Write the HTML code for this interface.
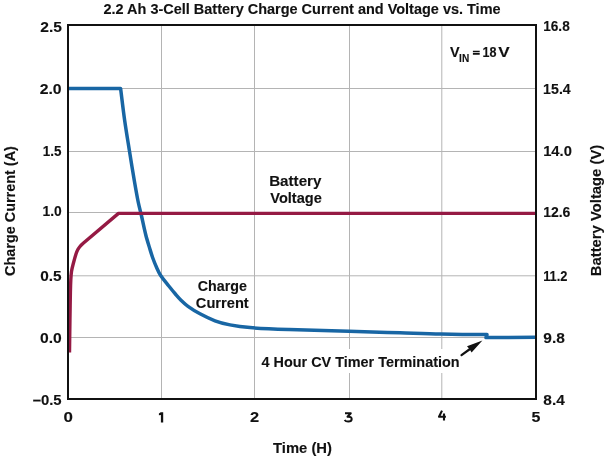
<!DOCTYPE html>
<html><head><meta charset="utf-8"><style>
html,body{margin:0;padding:0;background:#fff;width:607px;height:457px;overflow:hidden}
svg{display:block;will-change:transform;filter:blur(0.3px)}
text{font-family:"Liberation Sans",sans-serif;font-weight:bold;fill:#111;font-size:14.5px;stroke:#111;stroke-width:0.12px}
</style></head><body>
<svg width="607" height="457" viewBox="0 0 607 457" xmlns="http://www.w3.org/2000/svg">
<rect x="0" y="0" width="607" height="457" fill="#fff"/>
<g class="gfx">
<g stroke="#b4b4b4" stroke-width="1" fill="none">
<line x1="161.5" y1="25" x2="161.5" y2="399"/>
<line x1="254.5" y1="25" x2="254.5" y2="399"/>
<line x1="349.5" y1="25" x2="349.5" y2="399"/>
<line x1="441.8" y1="25" x2="441.8" y2="399"/>
<line x1="68" y1="88.5" x2="536" y2="88.5"/>
<line x1="68" y1="151.5" x2="536" y2="151.5"/>
<line x1="68" y1="212.5" x2="536" y2="212.5"/>
<line x1="68" y1="275.8" x2="536" y2="275.8"/>
<line x1="68" y1="337.5" x2="536" y2="337.5"/>
</g>
<rect x="258" y="349" width="202" height="24" fill="#fff"/>
<path fill="none" stroke="#1866a4" stroke-width="3.5" stroke-linejoin="round" d="M68.00 88.50 L120.60 88.50 C121.93 99.00 123.12 109.52 124.60 120.00 C126.02 130.02 127.70 140.01 129.30 150.00 C130.90 160.01 132.49 170.01 134.20 180.00 C135.46 187.35 136.72 194.70 138.20 202.00 C139.09 206.36 140.30 210.66 141.30 215.00 C142.83 221.66 144.13 228.38 145.80 235.00 C146.90 239.38 148.29 243.68 149.60 248.00 C150.56 251.18 151.48 254.38 152.60 257.50 C153.81 260.88 155.14 264.22 156.60 267.50 C157.78 270.15 158.91 272.88 160.50 275.30 C162.97 279.05 165.99 282.47 168.80 286.00 C171.09 288.87 173.41 291.72 175.80 294.50 C177.48 296.45 179.15 298.41 181.00 300.20 C183.22 302.35 185.49 304.50 188.00 306.30 C191.82 309.04 195.85 311.57 200.00 313.80 C204.85 316.41 209.84 318.89 215.00 320.80 C219.84 322.59 224.92 323.91 230.00 324.90 C236.59 326.18 243.30 327.07 250.00 327.60 C262.97 328.63 275.99 329.11 289.00 329.60 C308.99 330.35 329.00 330.71 349.00 331.30 C366.00 331.80 383.00 332.33 400.00 332.85 C413.67 333.27 427.33 333.83 441.00 334.10 C456.33 334.41 471.67 334.43 487.00 334.60 L486.00 337.60 L536.00 337.30"/>
<path fill="none" stroke="#951a44" stroke-width="3.4" stroke-linejoin="round" d="M69.50 352.50 C69.60 345.00 69.69 337.50 69.80 330.00 C69.89 323.33 69.99 316.67 70.10 310.00 C70.19 304.00 70.26 298.00 70.40 292.00 C70.49 288.00 70.59 284.00 70.80 280.00 C70.95 277.16 71.08 274.30 71.50 271.50 C71.88 268.97 72.56 266.48 73.20 264.00 C74.06 260.65 74.93 257.28 76.00 254.00 C76.53 252.38 77.19 250.78 78.00 249.30 C78.69 248.05 79.56 246.87 80.50 245.80 C81.40 244.77 82.46 243.89 83.50 243.00 L118.50 213.40 L536.00 213.40"/>
<rect x="68" y="25" width="468" height="374" fill="none" stroke="#111" stroke-width="2"/>
<line x1="461.5" y1="355.1" x2="470" y2="349" stroke="#111" stroke-width="2.2" stroke-linecap="round"/>
<path d="M482.4 340.5 L467 346.3 L469.6 349.3 L471.6 352.6 Z" fill="#111"/>
</g>
<path d="M160.7 412.2 H163.2 V422.5 H160.9 V415.0 L158.9 415.3 V413.4 Z" fill="#111"/>
<path d="M442 410.6 L439 416.8 H445.9 M444 413.6 V420.6" stroke="#111" stroke-width="2.1" stroke-linejoin="round" fill="none"/>
<path d="M345 413.2 H350.8 L347.5 416.7 Q351.7 416.5 351.7 419.1 Q351.7 421.6 348.2 421.6 Q345.7 421.6 344.6 420" stroke="#111" stroke-width="2" stroke-linejoin="round" fill="none"/>
<path d="M472.9 50.7 h6.8 v1.5 h-6.8 Z M472.9 53.1 h6.8 v1.6 h-6.8 Z" fill="#111"/>
<text x="103.48" y="14.00" style="font-size:14.00px" textLength="397.10" lengthAdjust="spacingAndGlyphs">2.2 Ah 3-Cell Battery Charge Current and Voltage vs. Time</text>
<text x="40.31" y="31.60" textLength="21.65" lengthAdjust="spacingAndGlyphs">2.5</text>
<text x="39.70" y="93.50" textLength="21.96" lengthAdjust="spacingAndGlyphs">2.0</text>
<text x="42.85" y="156.10" textLength="18.67" lengthAdjust="spacingAndGlyphs">1.5</text>
<text x="42.47" y="216.40" textLength="19.24" lengthAdjust="spacingAndGlyphs">1.0</text>
<text x="40.17" y="281.00" textLength="21.37" lengthAdjust="spacingAndGlyphs">0.5</text>
<text x="39.94" y="342.90" textLength="21.78" lengthAdjust="spacingAndGlyphs">0.0</text>
<text x="32.68" y="404.90" textLength="28.96" lengthAdjust="spacingAndGlyphs">–0.5</text>
<text x="543.20" y="30.90" textLength="26.53" lengthAdjust="spacingAndGlyphs">16.8</text>
<text x="543.12" y="93.60" textLength="27.60" lengthAdjust="spacingAndGlyphs">15.4</text>
<text x="543.18" y="156.10" textLength="28.70" lengthAdjust="spacingAndGlyphs">14.0</text>
<text x="543.15" y="216.50" textLength="27.23" lengthAdjust="spacingAndGlyphs">12.6</text>
<text x="543.17" y="281.30" textLength="24.32" lengthAdjust="spacingAndGlyphs">11.2</text>
<text x="543.30" y="343.20" textLength="21.55" lengthAdjust="spacingAndGlyphs">9.8</text>
<text x="543.30" y="405.10" textLength="21.48" lengthAdjust="spacingAndGlyphs">8.4</text>
<text x="63.42" y="422.27" textLength="9.43" lengthAdjust="spacingAndGlyphs">0</text>
<text x="249.93" y="422.27" textLength="9.14" lengthAdjust="spacingAndGlyphs">2</text>
<text x="531.45" y="422.30" textLength="8.92" lengthAdjust="spacingAndGlyphs">5</text>
<text x="273.09" y="453.00" textLength="58.85" lengthAdjust="spacingAndGlyphs">Time (H)</text>
<text transform="translate(15.30,275.98) rotate(-90)" textLength="129.86" lengthAdjust="spacingAndGlyphs">Charge Current (A)</text>
<text transform="translate(600.80,276.21) rotate(-90)" textLength="131.42" lengthAdjust="spacingAndGlyphs">Battery Voltage (V)</text>
<text x="450.12" y="57.30" textLength="9.62" lengthAdjust="spacingAndGlyphs">V</text>
<text x="459.12" y="61.50" style="font-size:10.50px" textLength="10.10" lengthAdjust="spacingAndGlyphs">IN</text>
<text x="482.54" y="57.30" textLength="13.98" lengthAdjust="spacingAndGlyphs">18</text>
<text x="498.23" y="57.30" textLength="11.41" lengthAdjust="spacingAndGlyphs">V</text>
<text x="269.15" y="186.10" textLength="52.31" lengthAdjust="spacingAndGlyphs">Battery</text>
<text x="270.26" y="203.40" textLength="51.58" lengthAdjust="spacingAndGlyphs">Voltage</text>
<text x="197.70" y="291.30" textLength="49.18" lengthAdjust="spacingAndGlyphs">Charge</text>
<text x="195.85" y="307.81" textLength="52.90" lengthAdjust="spacingAndGlyphs">Current</text>
<text x="261.51" y="367.25" textLength="198.10" lengthAdjust="spacingAndGlyphs">4 Hour CV Timer Termination</text>
</svg>
</body></html>
